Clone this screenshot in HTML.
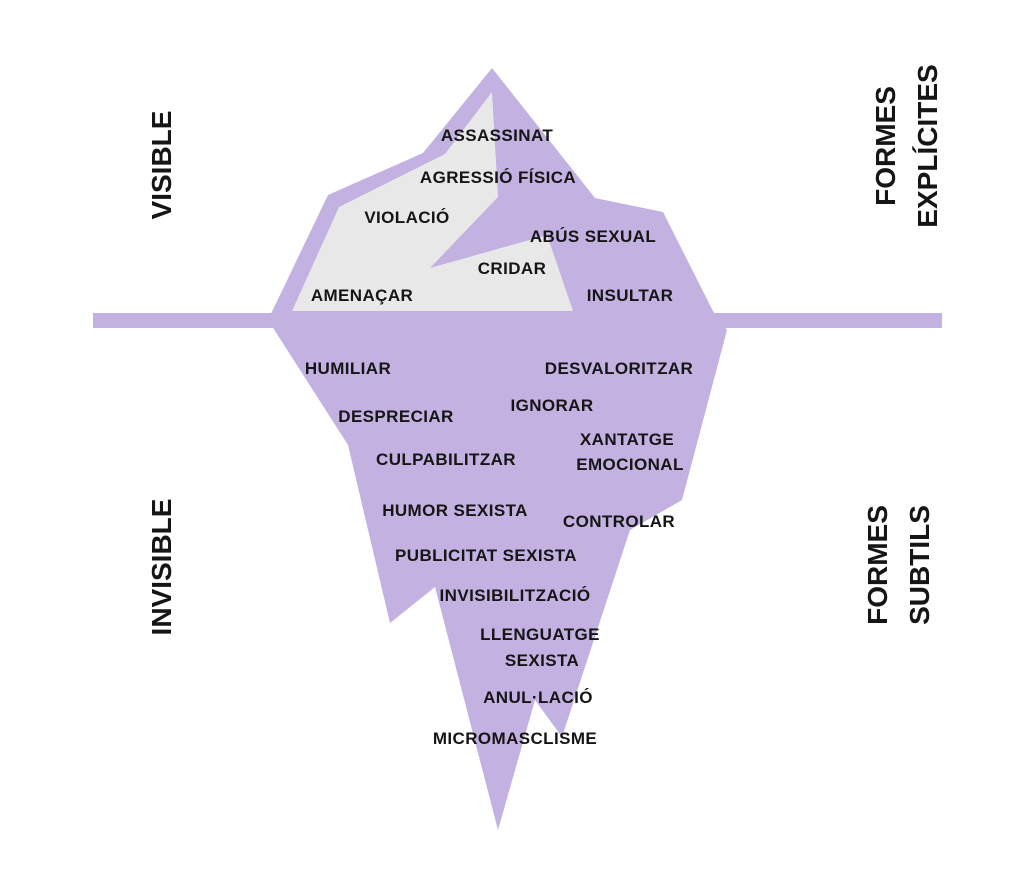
<!DOCTYPE html>
<html><head><meta charset="utf-8"><style>
html,body{margin:0;padding:0;background:#fff;}
svg{display:block;}
text{font-family:"Liberation Sans",sans-serif;font-weight:bold;fill:#151515;}
</style></head><body>
<svg width="1024" height="896" viewBox="0 0 1024 896" xmlns="http://www.w3.org/2000/svg">
<rect x="93" y="313" width="849" height="15" fill="#c3b1e1"/>
<polygon fill="#c3b1e1" points="492,68 595,198 663,212 715,315 727,330 682,500 630,530 562,737 535,700 498,830 435,587 390,623 348,445 268,320 328,195 423,153"/>
<polygon fill="#e8e8e8" points="292,311 339,207 445,154 492,92 498,197 430,268 547,235 573,311"/>
<g font-size="17" text-anchor="middle" letter-spacing="0.4">
<text x="497" y="141">ASSASSINAT</text>
<text x="498" y="183">AGRESSIÓ FÍSICA</text>
<text x="407" y="223">VIOLACIÓ</text>
<text x="593" y="242">ABÚS SEXUAL</text>
<text x="512" y="274">CRIDAR</text>
<text x="362" y="301">AMENAÇAR</text>
<text x="630" y="301">INSULTAR</text>
<text x="348" y="374">HUMILIAR</text>
<text x="619" y="374">DESVALORITZAR</text>
<text x="552" y="411">IGNORAR</text>
<text x="396" y="422">DESPRECIAR</text>
<text x="627" y="445">XANTATGE</text>
<text x="630" y="470">EMOCIONAL</text>
<text x="446" y="465">CULPABILITZAR</text>
<text x="455" y="516">HUMOR SEXISTA</text>
<text x="619" y="527">CONTROLAR</text>
<text x="486" y="561">PUBLICITAT SEXISTA</text>
<text x="515" y="601">INVISIBILITZACIÓ</text>
<text x="540" y="640">LLENGUATGE</text>
<text x="542" y="666">SEXISTA</text>
<text x="538" y="703">ANUL·LACIÓ</text>
<text x="515" y="744">MICROMASCLISME</text>
</g>
<g font-size="28" text-anchor="middle">
<text transform="translate(171,165) rotate(-90)">VISIBLE</text>
<text transform="translate(171,567) rotate(-90)">INVISIBLE</text>
<text transform="translate(895,146) rotate(-90)">FORMES</text>
<text transform="translate(937,146) rotate(-90)">EXPLÍCITES</text>
<text transform="translate(887,565) rotate(-90)">FORMES</text>
<text transform="translate(929,565) rotate(-90)">SUBTILS</text>
</g>
</svg>
</body></html>
